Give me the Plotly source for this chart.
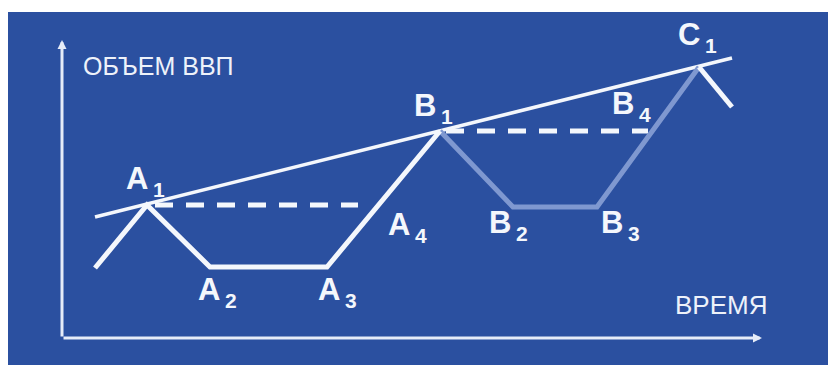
import plotly.graph_objects as go

# ---- data (time units along x, GDP units along y) ----
cycle_a_time = [95, 147, 210, 327, 440]
cycle_a_gdp = [97, 160, 98, 98, 234]

cycle_b_time = [440, 513, 597, 699]
cycle_b_gdp = [234, 158, 158, 298]

decline_c_time = [699, 732]
decline_c_gdp = [298, 258]

trend_time = [95, 732]
trend_gdp = [148, 307]

peak_a_level_time = [155, 358]
peak_a_level_gdp = [160, 160]

peak_b_level_time = [446, 648]
peak_b_level_gdp = [234, 234]

axis_origin = (62, 27)
axis_time_end = 762
axis_gdp_end = 325

label_letters = ["A", "A", "A", "A", "B", "B", "B", "B", "C"]
label_subs = ["1", "2", "3", "4", "1", "2", "3", "4", "1"]
label_time = [147, 210, 327, 358, 440, 513, 597, 648, 699]
label_gdp = [160, 98, 98, 160, 234, 158, 158, 234, 298]

y_title = "ОБЪЕМ ВВП"
x_title = "ВРЕМЯ"

# ---- style ----
BG = "#2b50a0"
WHITE = "#f4f7fc"
B_COLOR = "#7f98d0"
label_dx = [-10, -1, 2, 41, -15, -13, 15, -25, -10]
label_dy = [27, -22, -22, -19, 26, -15, -15, 28, 33]

fig = go.Figure()

fig.add_trace(go.Scatter(x=trend_time, y=trend_gdp, mode="lines",
                         line=dict(color=WHITE, width=3.5), hoverinfo="skip"))
fig.add_trace(go.Scatter(x=peak_a_level_time, y=peak_a_level_gdp, mode="lines",
                         line=dict(color=WHITE, width=5, dash="18px,13px"), hoverinfo="skip"))
fig.add_trace(go.Scatter(x=peak_b_level_time, y=peak_b_level_gdp, mode="lines",
                         line=dict(color=WHITE, width=5, dash="18px,13px"), hoverinfo="skip"))
fig.add_trace(go.Scatter(x=cycle_b_time, y=cycle_b_gdp, mode="lines",
                         line=dict(color=B_COLOR, width=5), hoverinfo="skip"))
fig.add_trace(go.Scatter(x=cycle_a_time, y=cycle_a_gdp, mode="lines",
                         line=dict(color=WHITE, width=5), hoverinfo="skip"))
fig.add_trace(go.Scatter(x=decline_c_time, y=decline_c_gdp, mode="lines",
                         line=dict(color=WHITE, width=5), hoverinfo="skip"))

ann = []
# axes with arrows
ann.append(dict(x=axis_time_end, y=axis_origin[1], ax=axis_origin[0], ay=axis_origin[1],
                xref="x", yref="y", axref="x", ayref="y", text="", showarrow=True,
                arrowhead=2, arrowsize=0.6, arrowwidth=3, arrowcolor="#e6ecf8", standoff=0))
ann.append(dict(x=axis_origin[0], y=axis_gdp_end, ax=axis_origin[0], ay=axis_origin[1],
                xref="x", yref="y", axref="x", ayref="y", text="", showarrow=True,
                arrowhead=2, arrowsize=0.6, arrowwidth=3, arrowcolor="#e6ecf8", standoff=0))

ann.append(dict(x=81, y=299, xref="x", yref="y", text=y_title, showarrow=False,
                xanchor="left", yanchor="middle",
                font=dict(family="Liberation Sans, Arial", size=25, color="#eef2fa")))
ann.append(dict(x=769, y=60, xref="x", yref="y", text=x_title, showarrow=False,
                xanchor="right", yanchor="middle",
                font=dict(family="Liberation Sans, Arial", size=26, color="#eef2fa")))

for L, s, t, g, dx, dy in zip(label_letters, label_subs, label_time, label_gdp, label_dx, label_dy):
    ann.append(dict(x=t, y=g, xref="x", yref="y", text="<b>%s</b>" % L, showarrow=False,
                    xshift=dx, yshift=dy, xanchor="center", yanchor="middle",
                    font=dict(family="Liberation Sans, Arial", size=31, color=WHITE)))
    ann.append(dict(x=t, y=g, xref="x", yref="y", text="<b>%s</b>" % s, showarrow=False,
                    xshift=dx + 22, yshift=dy - 11, xanchor="center", yanchor="middle",
                    font=dict(family="Liberation Sans, Arial", size=21, color=WHITE)))

shapes = [
    # white page strip above and left of the blue panel
    dict(type="rect", xref="paper", yref="paper", x0=-0.05, x1=1.05, y0=1.0, y1=1.1,
         fillcolor="white", line=dict(width=0), layer="below"),
    dict(type="rect", xref="paper", yref="paper", x0=-0.05, x1=0.0, y0=-0.1, y1=1.1,
         fillcolor="white", line=dict(width=0), layer="below"),
]

fig.update_layout(
    width=828, height=365,
    margin=dict(l=8, r=0, t=12, b=0),
    paper_bgcolor=BG, plot_bgcolor=BG,
    showlegend=False,
    xaxis=dict(range=[8, 828], visible=False, fixedrange=True),
    yaxis=dict(range=[0, 353], visible=False, fixedrange=True),
    annotations=ann,
    shapes=shapes,
)

fig.write_html("out.html", config={"displayModeBar": False},
               post_script="document.body.style.margin='0';document.body.style.overflow='hidden';")
